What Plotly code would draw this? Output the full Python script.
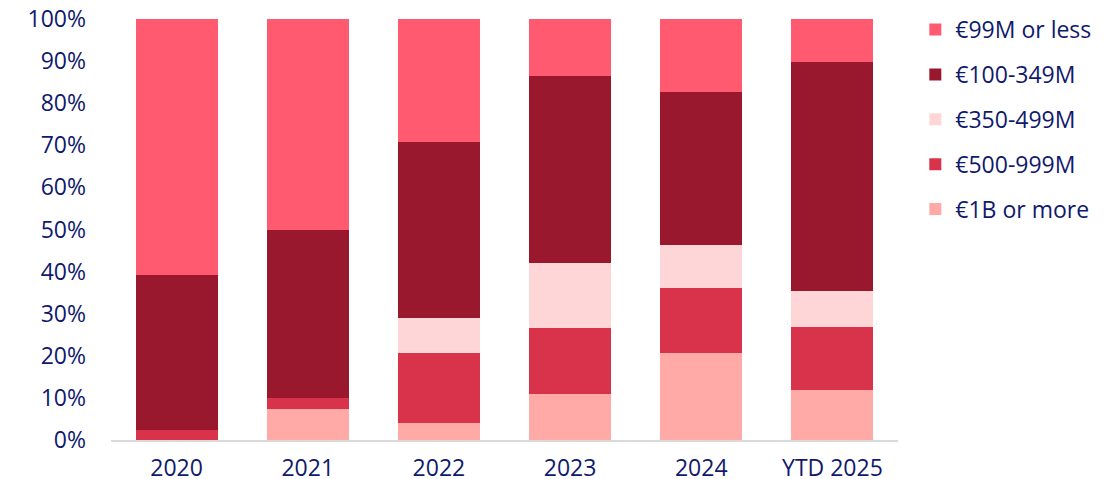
import plotly.graph_objects as go

categories = ["2020", "2021", "2022", "2023", "2024", "YTD 2025"]
series_names = ["€1B or more", "€500-999M", "€350-499M", "€100-349M", "€99M or less"]
v_1b = [0.0, 7.4, 4.1, 11.0, 20.6, 11.8]
v_500_999 = [2.4, 2.6, 16.6, 15.5, 15.5, 15.1]
v_350_499 = [0.0, 0.0, 8.3, 15.6, 10.3, 8.6]
v_100_349 = [36.9, 39.9, 41.8, 44.4, 36.3, 54.3]
v_99_less = [60.7, 50.1, 29.2, 13.5, 17.3, 10.2]
colors = ["#FFAAA6", "#D9324B", "#FFD6D8", "#99182E", "#FF5A6F"]

values = [v_1b, v_500_999, v_350_499, v_100_349, v_99_less]
tick_vals = [i / 10 for i in range(11)]
tick_text = [f"{i*10}%" for i in range(11)]

navy = "#101A6C"
font_family = "Open Sans, Lato, sans-serif"

fig = go.Figure()
n = len(series_names)
for i, (name, vals, col) in enumerate(zip(series_names, values, colors)):
    fig.add_trace(go.Bar(
        x=categories, y=[v / 100 for v in vals], name=name,
        marker=dict(color=col, line=dict(width=0)),
        legendgroup=name, legendrank=n - i,
    ))

fig.update_layout(
    width=1112, height=471,
    barmode="stack", bargap=0.375,
    plot_bgcolor="white", paper_bgcolor="white",
    margin=dict(l=103, r=222, t=11, b=39, autoexpand=False),
    font=dict(family=font_family, size=23, color=navy),
    legend=dict(
        x=1.022, y=1.026, xanchor="left", yanchor="top",
        traceorder="grouped", tracegroupgap=12,
        font=dict(size=23, color=navy), itemwidth=30,
    ),
    showlegend=True,
)
fig.update_yaxes(
    range=[0, 1], tickvals=tick_vals, ticktext=tick_text,
    showgrid=False, zeroline=False, showline=False, ticks="",
    ticklabelstandoff=24, automargin=False, ticklabeloverflow="allow",
)
fig.update_xaxes(
    showline=True, linecolor="#D9D9D9", linewidth=1.5,
    ticks="", showgrid=False, ticklabelstandoff=7, automargin=False,
    ticklabeloverflow="allow",
)

fig.write_html("out.html")
